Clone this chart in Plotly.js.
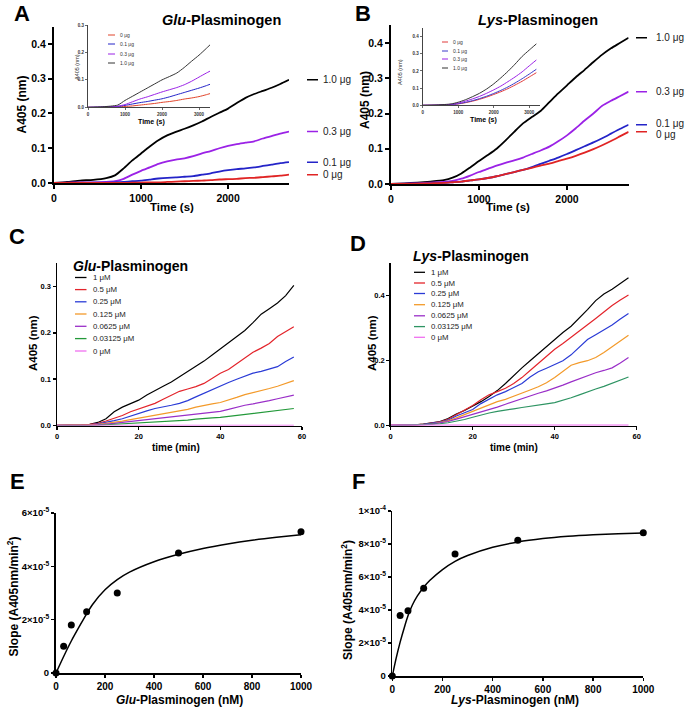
<!DOCTYPE html>
<html>
<head>
<meta charset="utf-8">
<script src="https://cdn.plot.ly/plotly-3.0.1.min.js"></script>
<style>html,body{margin:0;padding:0;background:#fff;}#chart{width:685px;height:710px;}</style>
</head>
<body>
<div id="chart"></div>
<script>
// ---------- DATA ----------
// Panel A / B main: time (s)
const tMain = [0,150,300,450,600,700,800,900,1000,1100,1200,1300,1400,1500,1600,1700,1800,1900,2000,2100,2200,2300,2400,2500,2600,2700];
const doseLabels = ["1.0 μg","0.3 μg","0.1 μg","0 μg"];
const gluA_10 = [0,0.003,0.007,0.009,0.014,0.022,0.042,0.065,0.085,0.105,0.123,0.137,0.147,0.156,0.166,0.177,0.19,0.202,0.214,0.23,0.245,0.256,0.265,0.274,0.285,0.297];
const gluA_03 = [0,0.001,0.002,0.002,0.003,0.005,0.012,0.024,0.035,0.045,0.055,0.062,0.067,0.071,0.077,0.085,0.092,0.1,0.107,0.112,0.116,0.12,0.128,0.135,0.142,0.148];
const gluA_01 = [0,0,0,0.001,0.001,0.002,0.003,0.005,0.007,0.01,0.013,0.015,0.016,0.018,0.02,0.024,0.028,0.033,0.037,0.04,0.042,0.045,0.049,0.053,0.057,0.06];
const gluA_00 = [0,0,0,0,0,0,0,0.001,0.001,0.002,0.002,0.003,0.004,0.005,0.006,0.007,0.008,0.01,0.011,0.012,0.014,0.015,0.017,0.019,0.021,0.024];

const lysB_10 = [0,0.002,0.004,0.007,0.011,0.018,0.03,0.047,0.065,0.082,0.1,0.123,0.148,0.172,0.19,0.207,0.232,0.257,0.28,0.303,0.324,0.346,0.367,0.385,0.4,0.415];
const lysB_03 = [0,0.001,0.002,0.004,0.006,0.009,0.015,0.024,0.034,0.043,0.052,0.06,0.067,0.075,0.085,0.095,0.106,0.121,0.138,0.158,0.18,0.2,0.222,0.236,0.249,0.262];
const lysB_01 = [0,0,0.001,0.002,0.003,0.005,0.007,0.01,0.013,0.017,0.022,0.028,0.034,0.04,0.048,0.057,0.066,0.075,0.085,0.096,0.107,0.118,0.13,0.143,0.156,0.168];
const lysB_00 = [0,0,0.001,0.002,0.003,0.005,0.007,0.01,0.013,0.017,0.022,0.028,0.034,0.04,0.046,0.052,0.058,0.065,0.072,0.08,0.089,0.099,0.11,0.122,0.135,0.148];

// Insets
const tInsetA = [0,400,800,1000,1200,1400,1600,1800,2000,2200,2400,2600,2800,3000,3200,3300];
const insA_10 = [0,0.002,0.008,0.025,0.04,0.055,0.07,0.085,0.1,0.112,0.125,0.145,0.168,0.19,0.215,0.228];
const insA_03 = [0,0.001,0.004,0.01,0.02,0.03,0.038,0.047,0.056,0.064,0.072,0.082,0.095,0.11,0.125,0.132];
const insA_01 = [0,0.001,0.003,0.007,0.012,0.017,0.021,0.026,0.031,0.038,0.046,0.054,0.062,0.07,0.079,0.084];
const insA_00 = [0,0,0.002,0.003,0.005,0.008,0.011,0.014,0.018,0.021,0.025,0.03,0.034,0.039,0.046,0.05];

const tInsetB = [0,400,800,1000,1200,1400,1600,1800,2000,2200,2400,2600,2800,3000,3200];
const insB_10 = [0,0.002,0.008,0.018,0.032,0.05,0.07,0.095,0.125,0.16,0.198,0.24,0.285,0.322,0.358];
const insB_03 = [0,0.001,0.006,0.013,0.024,0.037,0.052,0.07,0.09,0.112,0.138,0.165,0.195,0.23,0.264];
const insB_01 = [0,0.001,0.004,0.009,0.017,0.027,0.039,0.053,0.069,0.087,0.107,0.13,0.155,0.182,0.21];
const insB_00 = [0,0.001,0.004,0.008,0.015,0.024,0.035,0.048,0.063,0.079,0.097,0.118,0.14,0.165,0.19];
const insetLabels = ["0 μg","0.1 μg","0.3 μg","1.0 μg"];

// Panels C / D: time (min)
const tMin = [0,2,4,6,8,10,12,14,16,18,20,22,24,26,28,30,32,34,36,38,40,42,44,46,48,50,52,54,56,58];
const concLabels = ["1 μM","0.5 μM","0.25 μM","0.125 μM","0.0625 μM","0.03125 μM","0 μM"];
const gluC_1 = [0.001,0.001,0.002,0.002,0.003,0.007,0.015,0.03,0.04,0.047,0.055,0.066,0.076,0.085,0.094,0.105,0.116,0.127,0.139,0.152,0.165,0.178,0.193,0.205,0.222,0.24,0.252,0.264,0.28,0.302];
const gluC_05 = [0.001,0.001,0.002,0.002,0.003,0.005,0.01,0.016,0.022,0.03,0.036,0.041,0.048,0.057,0.066,0.074,0.079,0.084,0.091,0.102,0.113,0.121,0.133,0.145,0.158,0.167,0.177,0.192,0.202,0.213];
const gluC_025 = [0.001,0.001,0.001,0.002,0.002,0.004,0.007,0.011,0.015,0.021,0.027,0.032,0.037,0.04,0.044,0.048,0.054,0.062,0.07,0.078,0.086,0.093,0.1,0.107,0.113,0.117,0.122,0.127,0.138,0.148];
const gluC_0125 = [0.001,0.001,0.001,0.001,0.002,0.003,0.005,0.007,0.01,0.013,0.016,0.019,0.023,0.026,0.028,0.031,0.035,0.04,0.044,0.047,0.05,0.055,0.061,0.067,0.071,0.075,0.08,0.085,0.091,0.097];
const gluC_00625 = [0,0,0.001,0.001,0.001,0.002,0.003,0.005,0.007,0.009,0.011,0.013,0.015,0.017,0.019,0.021,0.023,0.025,0.027,0.029,0.031,0.035,0.04,0.044,0.047,0.05,0.054,0.058,0.062,0.066];
const gluC_003125 = [0,0,0,0.001,0.001,0.001,0.002,0.003,0.003,0.004,0.005,0.006,0.007,0.008,0.009,0.011,0.012,0.014,0.016,0.017,0.018,0.02,0.022,0.024,0.026,0.028,0.03,0.032,0.034,0.037];
const gluC_0 = [0.001,0.001,0.001,0.001,0.001,0.001,0.002,0.001,0.001,0.001,0.001,0.001,0.001,0.001,0.001,0.001,0.001,0.001,0.001,0.002,0.001,0.001,0.001,0.001,0.001,0.001,0.001,0.001,0.001,0.001];

const lysD_1 = [0.001,0.001,0.002,0.003,0.005,0.008,0.013,0.022,0.036,0.047,0.06,0.074,0.09,0.108,0.13,0.155,0.178,0.2,0.222,0.246,0.268,0.287,0.306,0.33,0.357,0.385,0.405,0.42,0.438,0.455];
const lysD_05 = [0.001,0.001,0.002,0.003,0.005,0.008,0.012,0.02,0.034,0.048,0.062,0.08,0.095,0.105,0.115,0.13,0.148,0.17,0.192,0.215,0.235,0.253,0.272,0.29,0.31,0.33,0.35,0.37,0.387,0.402];
const lysD_025 = [0.001,0.001,0.002,0.003,0.004,0.007,0.011,0.017,0.03,0.04,0.05,0.068,0.082,0.095,0.105,0.118,0.13,0.15,0.166,0.177,0.188,0.2,0.218,0.242,0.265,0.28,0.295,0.31,0.328,0.345];
const lysD_0125 = [0.001,0.001,0.002,0.002,0.003,0.005,0.009,0.015,0.024,0.034,0.044,0.055,0.065,0.074,0.081,0.09,0.1,0.11,0.12,0.132,0.148,0.168,0.186,0.194,0.2,0.21,0.225,0.243,0.26,0.278];
const lysD_00625 = [0.001,0.001,0.001,0.002,0.003,0.005,0.008,0.013,0.02,0.027,0.035,0.043,0.05,0.057,0.066,0.075,0.083,0.092,0.1,0.107,0.115,0.125,0.135,0.145,0.155,0.163,0.17,0.178,0.193,0.21];
const lysD_003125 = [0,0.001,0.001,0.002,0.003,0.004,0.006,0.009,0.013,0.019,0.026,0.033,0.039,0.044,0.049,0.052,0.056,0.059,0.063,0.067,0.071,0.078,0.086,0.095,0.105,0.113,0.121,0.13,0.14,0.15];
const lysD_0 = [0.002,0.002,0.002,0.002,0.002,0.002,0.002,0.002,0.002,0.002,0.002,0.002,0.002,0.002,0.002,0.002,0.002,0.002,0.002,0.002,0.002,0.002,0.002,0.002,0.002,0.002,0.002,0.002,0.002,0.002];

// Panels E / F: slope vs concentration (nM)
const concNM = [0,31.25,62.5,125,250,500,1000];
const slopeGlu = [0,1.0e-5,1.8e-5,2.3e-5,3.0e-5,4.5e-5,5.3e-5];
const slopeLys = [0,3.66e-5,3.96e-5,5.32e-5,7.4e-5,8.22e-5,8.68e-5];
const fitGluX = [0,31.25,62.5,100,125,150,200,250,300,400,500,600,700,800,900,1000];
const fitGluY = [0,0.62e-5,1.2e-5,1.82e-5,2.22e-5,2.58e-5,3.12e-5,3.5e-5,3.78e-5,4.17e-5,4.45e-5,4.67e-5,4.84e-5,4.98e-5,5.09e-5,5.18e-5];
const fitLysX = [0,15,31.25,50,62.5,80,100,125,150,200,250,300,400,500,600,700,800,900,1000];
const fitLysY = [0,1.05e-5,2.05e-5,3.05e-5,3.65e-5,4.3e-5,4.85e-5,5.38e-5,5.8e-5,6.45e-5,6.95e-5,7.3e-5,7.8e-5,8.12e-5,8.33e-5,8.47e-5,8.56e-5,8.62e-5,8.67e-5];
const eTickVals = [0,2e-5,4e-5,6e-5];
const eTickText = ["0","2×10<sup>-5</sup>","4×10<sup>-5</sup>","6×10<sup>-5</sup>"];
const fTickVals = [0,2e-5,4e-5,6e-5,8e-5,1e-4];
const fTickText = ["0","2×10<sup>-5</sup>","4×10<sup>-5</sup>","6×10<sup>-5</sup>","8×10<sup>-5</sup>","1×10<sup>-4</sup>"];

// ---------- STYLE / LAYOUT ----------
const W = 685, H = 710;
const F = "Liberation Sans, Arial, sans-serif";
const BLACK = "#000000", VIO = "#9b22e6", BLUE = "#2424c8", RED = "#e02424";
const cdColors = ["#000000","#e3242b","#2a3bd6","#f39a2a","#9a2fc8","#23993a","#f070f0"];
const dColors = ["#000000","#e3242b","#2a3bd6","#f39a2a","#9a2fc8","#2e9463","#f070f0"];

const dX = (a,b) => [a/W, b/W];
const dY = (top,bot) => [1-bot/H, 1-top/H];
const px = v => v/W, py = v => 1 - v/H;

function axis(domain, range, anchor, o) {
  return Object.assign({domain, range, anchor, showline:true, linecolor:'#000', linewidth:1.5,
    ticks:'outside', ticklen:4, tickwidth:1.5, tickcolor:'#000', showgrid:false, zeroline:false,
    fixedrange:true, tickfont:{family:F, size:10, color:'#000', weight:'bold'}}, o || {});
}
function line(x, y, color, xa, ya, w, shape) {
  return {type:'scatter', mode:'lines', x, y, xaxis:xa, yaxis:ya, hoverinfo:'skip', showlegend:false,
    line:{color, width:w, shape: shape || 'spline', smoothing:0.6}};
}
function ann(text, x, y, size, o) {
  return Object.assign({xref:'paper', yref:'paper', x:px(x), y:py(y), text, showarrow:false,
    xanchor:'center', yanchor:'middle', font:{family:F, size, color:'#000', weight:'bold'}}, o || {});
}
const traces = [];
const annotations = [];
const shapes = [];

// Panel A / B main
const aSeries = [gluA_10, gluA_03, gluA_01, gluA_00];
const bSeries = [lysB_10, lysB_03, lysB_01, lysB_00];
const abColors = [BLACK, VIO, BLUE, RED];
aSeries.forEach((s,i) => traces.push(line(tMain, s, abColors[i], 'x', 'y', 1.8)));
bSeries.forEach((s,i) => traces.push(line(tMain, s, abColors[i], 'x3', 'y3', 1.8)));
// end labels A / B
aSeries.forEach((s,i) => {
  const v = s[s.length-1];
  shapes.push({type:'line', xref:'paper', yref:'y', x0:px(307), x1:px(318), y0:v, y1:v, line:{color:abColors[i], width:1.5}});
  annotations.push({xref:'paper', yref:'y', x:px(321), y:v, xanchor:'left', yanchor:'middle', showarrow:false,
    text:doseLabels[i], font:{family:F, size:10, color:'#222'}});
});
bSeries.forEach((s,i) => {
  const v = s[s.length-1];
  const sh = (i===3) ? -3 : (i===2 ? 1 : 0);
  shapes.push({type:'line', xref:'paper', yref:'y3', x0:px(636), x1:px(647), y0:v, y1:v, line:{color:abColors[i], width:1.5}});
  annotations.push({xref:'paper', yref:'y3', x:px(654), y:v, yshift:sh, xanchor:'left', yanchor:'middle', showarrow:false,
    text:doseLabels[i], font:{family:F, size:10, color:'#222'}});
});

// Insets
const insAColors = ["#e0442a", BLUE, VIO, "#333333"];
const insA = [insA_00, insA_01, insA_03, insA_10];
const insB = [insB_00, insB_01, insB_03, insB_10];
const insBColors = ["#e03a3a", "#3a3ac8", VIO, "#333333"];
insA.forEach((s,i) => traces.push(line(tInsetA, s, insAColors[i], 'x2', 'y2', 1)));
insB.forEach((s,i) => traces.push(line(tInsetB, s, insBColors[i], 'x4', 'y4', 1)));
// inset legends
[35,44,54,63].forEach((yy,i) => {
  shapes.push({type:'line', xref:'paper', yref:'paper', x0:px(108), x1:px(115), y0:py(yy), y1:py(yy), line:{color:insAColors[i], width:1}});
  annotations.push(ann(insetLabels[i], 118, yy, 5, {xanchor:'left', font:{family:F, size:5, color:'#333'}}));
});
[42,51,59,68].forEach((yy,i) => {
  shapes.push({type:'line', xref:'paper', yref:'paper', x0:px(442), x1:px(448), y0:py(yy), y1:py(yy), line:{color:insBColors[i], width:1}});
  annotations.push(ann(insetLabels[i], 451, yy, 5, {xanchor:'left', font:{family:F, size:5, color:'#333'}}));
});

// Panels C / D
const cSeries = [gluC_1, gluC_05, gluC_025, gluC_0125, gluC_00625, gluC_003125, gluC_0];
const dSeries = [lysD_1, lysD_05, lysD_025, lysD_0125, lysD_00625, lysD_003125, lysD_0];
cSeries.forEach((s,i) => traces.push(line(tMin, s, cdColors[i], 'x5', 'y5', 1.2, 'linear')));
dSeries.forEach((s,i) => traces.push(line(tMin, s, dColors[i], 'x6', 'y6', 1.2, 'linear')));
[277.5,289.6,301.8,314,326.3,338.6,351].forEach((yy,i) => {
  shapes.push({type:'line', xref:'paper', yref:'paper', x0:px(75), x1:px(86.5), y0:py(yy), y1:py(yy), line:{color:cdColors[i], width:1.3}});
  annotations.push(ann(concLabels[i], 90.5, yy, 7.8, {xanchor:'left', font:{family:F, size:7.8, color:'#222'}}));
});
[272.3,283,293.5,304.7,315.8,326.6,337.3].forEach((yy,i) => {
  shapes.push({type:'line', xref:'paper', yref:'paper', x0:px(414), x1:px(425), y0:py(yy), y1:py(yy), line:{color:dColors[i], width:1.3}});
  annotations.push(ann(concLabels[i], 429, yy, 7.8, {xanchor:'left', font:{family:F, size:7.8, color:'#222'}}));
});

// Panels E / F
traces.push(line(fitGluX, fitGluY, BLACK, 'x7', 'y7', 1.5));
traces.push({type:'scatter', mode:'markers', x:concNM, y:slopeGlu, xaxis:'x7', yaxis:'y7', cliponaxis:false,
  marker:{color:'#000', size:7}, hoverinfo:'skip', showlegend:false});
traces.push(line(fitLysX, fitLysY, BLACK, 'x8', 'y8', 1.5));
traces.push({type:'scatter', mode:'markers', x:concNM, y:slopeLys, xaxis:'x8', yaxis:'y8', cliponaxis:false,
  marker:{color:'#000', size:7}, hoverinfo:'skip', showlegend:false});

// Titles & labels
const big = 22, ttl = 14.5;
annotations.push(ann('A', 22, 13.5, big), ann('B', 363, 13.5, big), ann('C', 16.5, 236.5, big),
                 ann('D', 358, 243.5, big), ann('E', 17, 481, big), ann('F', 358, 481, big));
annotations.push(ann('<i>Glu</i>-Plasminogen', 221, 20.5, ttl), ann('<i>Lys</i>-Plasminogen', 538, 20, ttl),
                 ann('<i>Glu</i>-Plasminogen', 130, 266.3, 14), ann('<i>Lys</i>-Plasminogen', 471.5, 256.2, 14));
// axis titles
annotations.push(ann('A405 (nm)', 21.5, 105, 12, {textangle:-90}), ann('Time (s)', 172, 207, 11.5),
                 ann('A405 (nm)', 365, 100, 12, {textangle:-90}), ann('Time (s)', 508, 207, 11.5));
annotations.push(ann('A405 (nm)', 77, 67, 5.5, {textangle:-90, font:{family:F, size:5.5, color:'#333'}}),
                 ann('Time (s)', 151, 121.5, 7), ann('A405 (nm)', 400, 72, 5.5, {textangle:-90, font:{family:F, size:5.5, color:'#333'}}),
                 ann('Time (s)', 483, 119.5, 7));
annotations.push(ann('A405 (nm)', 33, 343, 11.5, {textangle:-90}), ann('time (min)', 176, 447, 10),
                 ann('A405 (nm)', 372, 343, 11.5, {textangle:-90}), ann('time (min)', 514, 447, 10));
annotations.push(ann('Slope (A405nm/min<sup>2</sup>)', 12.5, 597, 12, {textangle:-90}),
                 ann('<i>Glu</i>-Plasminogen (nM)', 179, 700, 12),
                 ann('Slope (A405nm/min<sup>2</sup>)', 347, 600, 12, {textangle:-90}),
                 ann('<i>Lys</i>-Plasminogen (nM)', 515, 700, 12));

const mainTick = {family:F, size:10.5, color:'#000', weight:'bold'};
const insTick = {family:F, size:4.5, color:'#333', weight:'bold'};
const cdTick = {family:F, size:7.5, color:'#000', weight:'bold'};
const efTick = {family:F, size:10, color:'#000', weight:'bold'};
const efYTick = {family:F, size:9.5, color:'#000', weight:'bold'};

const layout = {
  width:W, height:H, margin:{l:0,r:0,t:0,b:0}, showlegend:false,
  paper_bgcolor:'#fff', plot_bgcolor:'rgba(0,0,0,0)',
  font:{family:F, color:'#000'},
  xaxis: axis(dX(54,289), [0,2700], 'y', {dtick:1000, tick0:0, linewidth:2, tickwidth:2, tickfont:mainTick}),
  yaxis: axis(dY(26.6,183), [0,0.45], 'x', {dtick:0.1, tick0:0, tickformat:'.1f', linewidth:2, tickwidth:2, tickfont:mainTick}),
  xaxis2: axis(dX(88,210.1), [0,3300], 'y2', {dtick:1000, linewidth:1, tickwidth:0.8, ticklen:2, linecolor:'#444', tickcolor:'#444', tickfont:insTick}),
  yaxis2: axis(dY(25,107.3), [0,0.3], 'x2', {dtick:0.1, tickformat:'.1f', linewidth:1, tickwidth:0.8, ticklen:2, linecolor:'#444', tickcolor:'#444', tickfont:insTick}),
  xaxis3: axis(dX(391,628.6), [0,2700], 'y3', {dtick:1000, linewidth:2, tickwidth:2, tickfont:mainTick}),
  yaxis3: axis(dY(25.4,184), [0,0.45], 'x3', {dtick:0.1, tickformat:'.1f', linewidth:2, tickwidth:2, tickfont:mainTick}),
  xaxis4: axis(dX(422.7,539.9), [0,3300], 'y4', {dtick:1000, linewidth:1, tickwidth:0.8, ticklen:2, linecolor:'#444', tickcolor:'#444', tickfont:insTick}),
  yaxis4: axis(dY(28.1,105.3), [0,0.45], 'x4', {dtick:0.1, tickformat:'.1f', linewidth:1, tickwidth:0.8, ticklen:2, linecolor:'#444', tickcolor:'#444', tickfont:insTick}),
  xaxis5: axis(dX(57,302), [0,60], 'y5', {dtick:20, tickfont:cdTick, ticklen:3}),
  yaxis5: axis(dY(263.1,425.7), [0,0.35], 'x5', {dtick:0.1, tickformat:'.1f', tickfont:cdTick, ticklen:3}),
  xaxis6: axis(dX(390.7,636.7), [0,60], 'y6', {dtick:20, tickfont:cdTick, ticklen:3}),
  yaxis6: axis(dY(263.2,425.7), [0,0.5], 'x6', {dtick:0.2, tickformat:'.1f', tickfont:cdTick, ticklen:3}),
  xaxis7: axis(dX(56,301), [0,1000], 'y7', {dtick:200, tickfont:efTick, linewidth:2, tickwidth:1.5, ticklen:3}),
  yaxis7: axis(dY(513,673), [0,6e-5], 'x7', {tickvals:eTickVals, ticktext:eTickText, tickfont:efYTick, linewidth:2, tickwidth:1.5, ticklen:3}),
  xaxis8: axis(dX(392.3,643.3), [0,1000], 'y8', {dtick:200, tickfont:efTick, linewidth:1.5, ticklen:3}),
  yaxis8: axis(dY(511,676), [0,1e-4], 'x8', {tickvals:fTickVals, ticktext:fTickText, tickfont:efYTick, linewidth:1.5, ticklen:3}),
  annotations, shapes
};

Plotly.newPlot('chart', traces, layout, {staticPlot:true, displayModeBar:false});
</script>
</body>
</html>
